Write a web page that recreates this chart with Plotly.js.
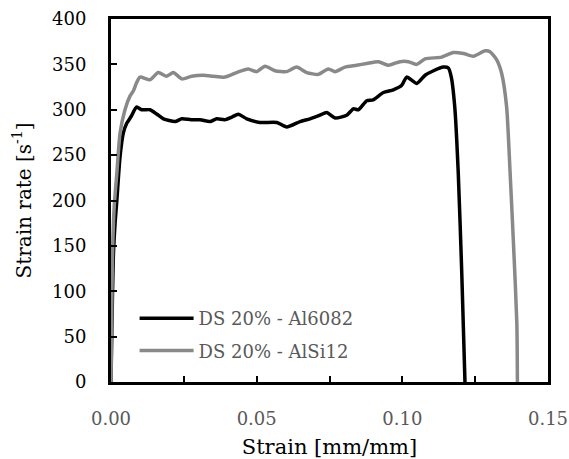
<!DOCTYPE html>
<html>
<head>
<meta charset="utf-8">
<script src="https://cdn.plot.ly/plotly-3.0.1.min.js"></script>
<style>html,body{margin:0;padding:0;background:#fff;}#chart{width:569px;height:459px;}</style>
</head>
<body>
<div id="chart"></div>
<script>
// Series names
const seriesNames = ["DS 20% - Al6082", "DS 20% - AlSi12"];

// DS 20% - Al6082 (black)
const strainAl6082 = [0, 0.0003, 0.0008, 0.0014, 0.002, 0.0031, 0.0042, 0.0054, 0.0068, 0.0088, 0.0105, 0.0134, 0.0158, 0.018, 0.022, 0.0243, 0.0275, 0.0306, 0.034, 0.0363, 0.039, 0.0415, 0.0437, 0.0466, 0.0511, 0.0569, 0.0603, 0.0649, 0.0683, 0.0717, 0.074, 0.0769, 0.0809, 0.0832, 0.0849, 0.0878, 0.09, 0.0935, 0.0969, 0.0998, 0.1015, 0.105, 0.1078, 0.1107, 0.1141, 0.1158, 0.1168, 0.118, 0.1192, 0.1204, 0.1215];
const rateAl6082 = [0, 60, 138, 175, 200, 248, 274, 285, 292, 303, 300, 300, 295, 290, 287, 290, 289, 289, 287, 290, 289, 292, 295, 290, 286, 286, 281, 287, 290, 294, 297, 291, 294, 301, 300, 310, 311, 319, 322, 327, 336, 329, 338, 343, 347, 346, 336, 303, 230, 120, 0];

// DS 20% - AlSi12 (grey)
const strainAlSi12 = [0, 0.0002, 0.0005, 0.0011, 0.002, 0.0031, 0.0048, 0.0065, 0.0077, 0.0088, 0.00995, 0.0134, 0.0162, 0.0191, 0.0214, 0.0243, 0.0277, 0.0317, 0.0351, 0.0391, 0.0431, 0.0471, 0.05, 0.0529, 0.0563, 0.0603, 0.0637, 0.0672, 0.0712, 0.0746, 0.0769, 0.0803, 0.0843, 0.0878, 0.0918, 0.0952, 0.0992, 0.1021, 0.1049, 0.1078, 0.1135, 0.1175, 0.121, 0.1244, 0.1284, 0.1301, 0.1324, 0.1341, 0.1358, 0.137, 0.1381, 0.1393, 0.1395];
const rateAlSi12 = [0, 60, 138, 193, 230, 274, 300, 315, 321, 330, 336, 333, 341, 337, 341, 334, 337, 338, 337, 336, 341, 345, 342, 348, 343, 342, 347, 341, 339, 345, 342, 347, 349, 351, 353, 349, 353, 353, 350, 356, 358, 363, 362, 359, 365, 364, 355, 340, 303, 230, 156, 65, 0];

// Axis ticks
const xTickVals = [0, 0.05, 0.10, 0.15];
const xTickText = ["0.00", "0.05", "0.10", "0.15"];
const yTickVals = [0, 50, 100, 150, 200, 250, 300, 350, 400];

const FONT = "DejaVu Serif";

const traces = [
  {x: strainAl6082, y: rateAl6082, name: seriesNames[0], type: "scatter", mode: "lines",
   line: {color: "#000000", width: 3.5, shape: "spline", smoothing: 0.6}, legendgroup: "a"},
  {x: strainAlSi12, y: rateAlSi12, name: seriesNames[1], type: "scatter", mode: "lines",
   line: {color: "#898989", width: 3.5, shape: "spline", smoothing: 0.6}, legendgroup: "b"}
];

const layout = {
  width: 569, height: 459,
  margin: {l: 111, r: 21, t: 19, b: 77},
  paper_bgcolor: "#fff", plot_bgcolor: "#fff",
  font: {family: FONT, size: 18, color: "#000"},
  showlegend: true,
  legend: {x: 0.054, y: 0.226, xanchor: "left", yanchor: "top", itemwidth: 54,
    bgcolor: "rgba(0,0,0,0)", font: {family: FONT, size: 18, color: "#595959"},
    traceorder: "grouped", tracegroupgap: 6},
  xaxis: {
    range: [0, 0.15], tickmode: "array", tickvals: xTickVals, ticktext: xTickText,
    ticks: "inside", ticklen: 6, tickwidth: 2, tickcolor: "#000",
    minor: {dtick: 0.025, tick0: 0, ticks: "inside", ticklen: 6, tickwidth: 2, tickcolor: "#000"},
    showline: true, linecolor: "#000", linewidth: 3, mirror: true,
    showgrid: false, zeroline: false,
    tickfont: {family: FONT, size: 18, color: "#595959"},
    ticklabelstandoff: 18,
    title: {text: "Strain [mm/mm]", font: {family: FONT, size: 21, color: "#000"}, standoff: 13}
  },
  yaxis: {
    range: [0, 400], tickmode: "array", tickvals: yTickVals,
    ticks: "inside", ticklen: 6, tickwidth: 2, tickcolor: "#000",
    showline: true, linecolor: "#000", linewidth: 3, mirror: true,
    showgrid: false, zeroline: false,
    tickfont: {family: FONT, size: 18, color: "#000"},
    ticklabelstandoff: 18,
    title: {text: "Strain rate [s<sup>-1</sup>]", font: {family: FONT, size: 20, color: "#000"}, standoff: 16}
  }
};

Plotly.newPlot("chart", traces, layout, {displayModeBar: false, staticPlot: true});
</script>
</body>
</html>
